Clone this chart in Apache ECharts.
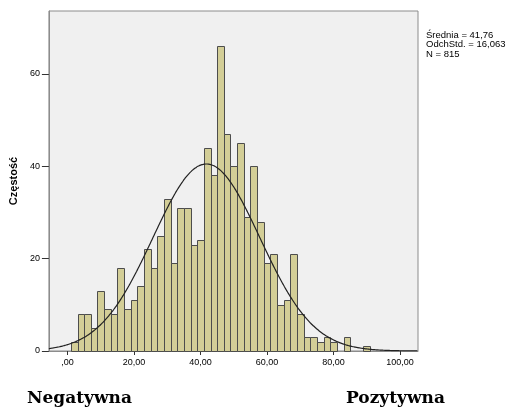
<!DOCTYPE html>
<html>
<head>
<meta charset="utf-8">
<script src="https://cdn.jsdelivr.net/npm/echarts@6/dist/echarts.min.js"></script>
<style>
  html, body { margin: 0; padding: 0; background: #fff; }
  #chart { width: 509px; height: 416px; }
</style>
</head>
<body>
<div id="chart"></div>
<script>
// Histogram bins: centre of each 2-point-wide class and its frequency
const binCenters = [2, 4, 6, 8, 10, 12, 14, 16, 18, 20, 22, 24, 26, 28, 30, 32, 34, 36, 38, 40,
                    42, 44, 46, 48, 50, 52, 54, 56, 58, 60, 62, 64, 66, 68, 70, 72, 74, 76, 78, 80,
                    82, 84, 86, 88, 90];
const binCounts  = [2, 8, 8, 5, 13, 9, 8, 18, 9, 11, 14, 22, 18, 25, 33, 19, 31, 31, 23, 24,
                    44, 38, 66, 47, 40, 45, 29, 40, 28, 19, 21, 10, 11, 21, 8, 3, 3, 2, 3, 2,
                    0, 3, 0, 0, 1];
const binWidth = 2;

// Descriptive statistics shown next to the plot
const mean = 41.76;
const stdDev = 16.063;
const n = 815;
const statsLines = ['Średnia = 41,76', 'OdchStd. = 16,063', 'N = 815'];

// Axis ticks and labels
const xTickValues = [0, 20, 40, 60, 80, 100];
const xTickLabels = [',00', '20,00', '40,00', '60,00', '80,00', '100,00'];
const yTickValues = [0, 20, 40, 60];
const yTickLabels = ['0', '20', '40', '60'];

const xMin = -5.6, xMax = 105.4;
const yMax = 73.6;

// Fitted normal curve, scaled to the histogram's frequencies
const curve = [];
for (let x = xMin; x <= xMax + 1e-9; x += 0.4) {
  const z = (x - mean) / stdDev;
  const y = n * binWidth / (stdDev * Math.sqrt(2 * Math.PI)) * Math.exp(-0.5 * z * z);
  curve.push([x, y]);
}

const bars = binCenters.map((c, i) => [c, binCounts[i]]).filter(d => d[1] > 0);

const chart = echarts.init(document.getElementById('chart'), null, { renderer: 'canvas' });

const textFont = 'Liberation Sans, Arial, sans-serif';

chart.setOption({
  animation: false,
  backgroundColor: '#ffffff',
  grid: {
    left: 47, right: 91, top: 11, bottom: 65,
    show: true,
    backgroundColor: '#f0f0f0',
    borderColor: '#8c8c8c',
    borderWidth: 1
  },
  xAxis: {
    type: 'value',
    min: xMin,
    max: xMax,
    splitLine: { show: false },
    axisLine: { show: true, onZero: false, lineStyle: { color: '#8c8c8c', width: 1 } },
    axisTick: {
      show: true, length: 4, inside: false,
      customValues: xTickValues,
      lineStyle: { color: '#333' }
    },
    axisLabel: {
      customValues: xTickValues,
      margin: 7,
      fontSize: 9,
      fontFamily: textFont,
      color: '#000',
      formatter: v => xTickLabels[xTickValues.indexOf(v)]
    }
  },
  yAxis: {
    type: 'value',
    min: 0,
    max: yMax,
    name: 'Częstość',
    nameLocation: 'middle',
    nameGap: 27,
    nameRotate: 90,
    nameTextStyle: {
      fontSize: 11, fontWeight: 'bold', fontFamily: textFont, color: '#000'
    },
    splitLine: { show: false },
    axisLine: { show: true, onZero: false, lineStyle: { color: '#8c8c8c', width: 1 } },
    axisTick: {
      show: true, length: 7, inside: false,
      customValues: yTickValues,
      lineStyle: { color: '#333' }
    },
    axisLabel: {
      customValues: yTickValues,
      margin: 9,
      fontSize: 9,
      fontFamily: textFont,
      color: '#000',
      formatter: v => yTickLabels[yTickValues.indexOf(v)]
    }
  },
  series: [
    {
      type: 'custom',
      data: bars,
      renderItem: (params, api) => {
        const c = api.value(0);
        const v = api.value(1);
        const p0 = api.coord([c - binWidth / 2, v]);
        const p1 = api.coord([c + binWidth / 2, 0]);
        return {
          type: 'rect',
          shape: {
            x: Math.round(p0[0]) + 0.5,
            y: Math.round(p0[1]) + 0.5,
            width: Math.round(p1[0]) - Math.round(p0[0]),
            height: Math.round(p1[1]) - Math.round(p0[1])
          },
          style: { fill: '#d3ce97', stroke: '#4d4d4d', lineWidth: 1 }
        };
      },
      z: 2
    },
    {
      type: 'line',
      data: curve,
      showSymbol: false,
      smooth: true,
      lineStyle: { color: '#222', width: 1.2 },
      z: 3
    }
  ],
  graphic: [
    {
      type: 'text',
      left: 426,
      top: 30,
      style: {
        text: statsLines.join('\n'),
        font: '9.5px ' + textFont,
        lineHeight: 9.5,
        fill: '#000'
      }
    },
    {
      type: 'text',
      left: 27,
      top: 390,
      style: {
        text: 'Negatywna',
        font: 'bold 17px "DejaVu Serif", serif',
        fill: '#000'
      }
    },
    {
      type: 'text',
      left: 346,
      top: 390,
      style: {
        text: 'Pozytywna',
        font: 'bold 17px "DejaVu Serif", serif',
        fill: '#000'
      }
    }
  ]
});
</script>
</body>
</html>
